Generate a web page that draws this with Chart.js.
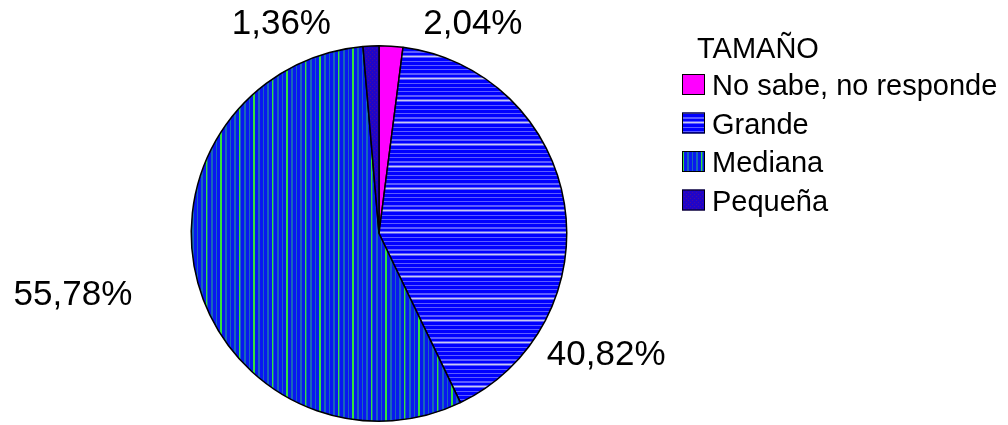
<!DOCTYPE html>
<html>
<head>
<meta charset="utf-8">
<script src="https://cdn.jsdelivr.net/npm/chart.js@4.4.1/dist/chart.umd.min.js"></script>
<style>
  html, body { margin: 0; padding: 0; background: #fff; }
  #wrap { width: 1008px; height: 425px; position: relative; }
</style>
</head>
<body>
<div id="wrap"><canvas id="pie"></canvas></div>
<script>
// ---- DATA ----
const LEGEND_TITLE = 'TAMAÑO';
const CATEGORIES = ['No sabe, no responde', 'Grande', 'Mediana', 'Pequeña'];
const PERCENTS = [2.04, 40.82, 55.78, 1.36];

const FONT = "'Liberation Sans', Arial, Helvetica, sans-serif";

// ---- FILL PATTERNS (mimic the old office-style hatch fills) ----
function stripePattern(colors, vertical) {
  const c = document.createElement('canvas');
  c.width = vertical ? colors.length : 1;
  c.height = vertical ? 1 : colors.length;
  const g = c.getContext('2d');
  colors.forEach((col, i) => {
    g.fillStyle = col;
    if (vertical) g.fillRect(i, 0, 1, 1);
    else g.fillRect(0, i, 1, 1);
  });
  return g.createPattern(c, 'repeat');
}

function dotPattern() {
  const c = document.createElement('canvas');
  c.width = 4; c.height = 4;
  const g = c.getContext('2d');
  g.fillStyle = '#2004c8';
  g.fillRect(0, 0, 4, 4);
  g.fillStyle = '#4a0c9c';
  g.fillRect(0, 0, 1, 1);
  g.fillRect(2, 2, 1, 1);
  return g.createPattern(c, 'repeat');
}

const B = '#0000ff', M = '#5c5cff', L = '#c8c8f0';
const grandeFill = stripePattern([B, B, B, M, B, B, B, M, M, B, B, M, L, M, B, B, B, M, B, B, B, M], false);
const bl = '#0818f0', tl = '#1868b8', gr = '#34e23c';
const medianaFill = stripePattern([
  bl, bl, bl, tl, tl, bl, bl, bl, gr, tl, bl, bl, bl, tl, tl,
  bl, bl, bl, tl, bl, bl, bl, gr, gr, bl, bl, bl, tl, tl, bl, bl, bl, tl,
], true);

const FILLS = ['#ff00ff', grandeFill, medianaFill, dotPattern()];

// label anchor offsets, in units of radius, relative to the pie centre
const LABEL_OFFSETS = [[0.50, -1.06], [1.21, 0.70], [-1.63, 0.38], [-0.52, -1.06]];

// ---- PLUGINS ----
const pctLabels = {
  id: 'pctLabels',
  afterDatasetsDraw(chart) {
    const arcs = chart.getDatasetMeta(0).data;
    if (!arcs.length) return;
    const { x, y, outerRadius } = arcs[0];
    const c = chart.ctx;
    c.save();
    c.font = '35px ' + FONT;
    c.fillStyle = '#000';
    c.textAlign = 'center';
    c.textBaseline = 'alphabetic';
    chart.data.datasets[0].data.forEach((v, i) => {
      const [ox, oy] = LABEL_OFFSETS[i];
      const txt = v.toFixed(2).replace('.', ',') + '%';
      c.fillText(txt, x + ox * outerRadius, y + oy * outerRadius);
    });
    c.restore();
  },
};

const sideLegend = {
  id: 'sideLegend',
  afterDraw(chart) {
    const c = chart.ctx;
    const ds = chart.data.datasets[0];
    const left = 682, top = 58, rowH = 38.5;
    c.save();
    c.fillStyle = '#000';
    c.textBaseline = 'alphabetic';
    c.textAlign = 'left';
    c.font = '29px ' + FONT;
    c.fillText(LEGEND_TITLE, left + 15, top);
    chart.data.labels.forEach((lab, i) => {
      const base = top + 37 + i * rowH;
      c.fillStyle = ds.backgroundColor[i];
      c.fillRect(left, base - 21, 23, 21);
      c.strokeStyle = '#000';
      c.lineWidth = 1;
      c.strokeRect(left + 0.5, base - 20.5, 22, 20);
      c.fillStyle = '#000';
      c.fillText(lab, left + 30, base);
    });
    c.restore();
  },
};

// ---- CHART ----
const chart = new Chart(document.getElementById('pie'), {
  type: 'pie',
  data: {
    labels: CATEGORIES,
    datasets: [{
      data: PERCENTS,
      backgroundColor: FILLS,
      borderColor: '#000',
      borderWidth: 1.5,
      hoverOffset: 0,
    }],
  },
  options: {
    responsive: true,
    maintainAspectRatio: false,
    animation: false,
    rotation: 0,
    layout: { padding: { left: 190, right: 440, top: 45, bottom: 3 } },
    plugins: {
      legend: { display: false },
      tooltip: { enabled: false },
    },
  },
  plugins: [pctLabels, sideLegend],
});
</script>
</body>
</html>
